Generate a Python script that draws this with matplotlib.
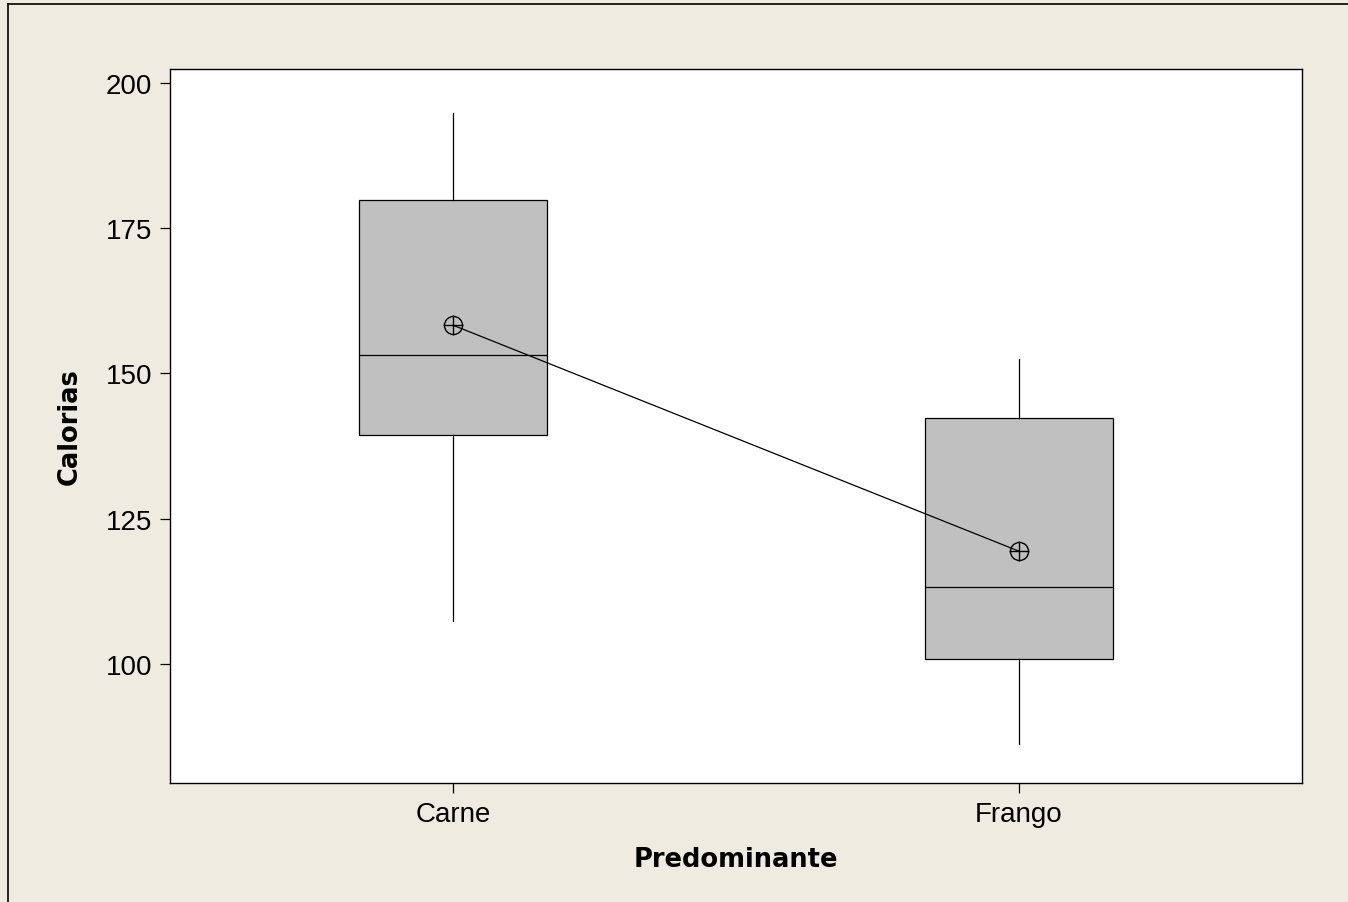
import numpy as np
import matplotlib.pyplot as plt
from matplotlib.lines import Line2D

plt.rcParams['font.family'] = ['Liberation Sans', 'DejaVu Sans']

# dados do boxplot (Calorias por tipo predominante)
categorias = ["Carne", "Frango"]
q1 = [139.4, 100.9]
mediana = [153.2, 113.3]
q3 = [179.9, 142.3]
whisker_min = [107.4, 86.2]
whisker_max = [194.8, 152.5]
media = [158.3, 119.4]
yticks = [100, 125, 150, 175, 200]

fig = plt.figure(figsize=(13.48, 9.03), dpi=100, facecolor="#EFEBE1")
ax = fig.add_axes([170 / 1348, 1 - 784 / 903, (1302 - 170) / 1348, (784 - 70) / 903])
ax.set_facecolor("white")

stats = []
for i, nome in enumerate(categorias):
    stats.append(dict(label=nome, q1=q1[i], med=mediana[i], q3=q3[i],
                      whislo=whisker_min[i], whishi=whisker_max[i], fliers=[]))

pos = np.arange(1, len(categorias) + 1)
ax.bxp(stats, positions=pos, widths=0.333, patch_artist=True, showcaps=False,
       boxprops=dict(facecolor="#C0C0C0", edgecolor="black", linewidth=0.9),
       medianprops=dict(color="black", linewidth=0.9),
       whiskerprops=dict(color="black", linewidth=0.9))

# linha ligando as medias
ax.plot(pos, media, color="black", linewidth=0.9, zorder=4)
ax.plot(pos, media, linestyle="none", marker="o", markersize=13, markerfacecolor="none",
        markeredgecolor="black", markeredgewidth=1.0, zorder=5)
ax.plot(pos, media, linestyle="none", marker="+", markersize=15, markeredgecolor="black",
        markeredgewidth=1.0, zorder=5)

ax.set_xlim(0.5, 2.5)
ax.set_ylim(79.5, 202.4)
ax.set_yticks(yticks)
ax.set_xticks(pos)
ax.set_xticklabels(categorias)
ax.tick_params(axis="both", labelsize=20, length=7, width=0.9, color="black", pad=6)
for s in ax.spines.values():
    s.set_linewidth(1.0)

ax.set_xlabel("Predominante", fontsize=18.5, fontweight="bold", family="DejaVu Sans", labelpad=14)
ax.set_ylabel("Calorias", fontsize=18.5, fontweight="bold", family="DejaVu Sans", labelpad=16)

# moldura da figura
fig.add_artist(Line2D([8 / 1348, 8 / 1348], [0, 1 - 5 / 903], transform=fig.transFigure,
                      color="black", linewidth=1.2))
fig.add_artist(Line2D([8 / 1348, 1], [1 - 5 / 903, 1 - 5 / 903], transform=fig.transFigure,
                      color="black", linewidth=1.2))

fig.savefig("out.png", dpi=100, facecolor=fig.get_facecolor())
